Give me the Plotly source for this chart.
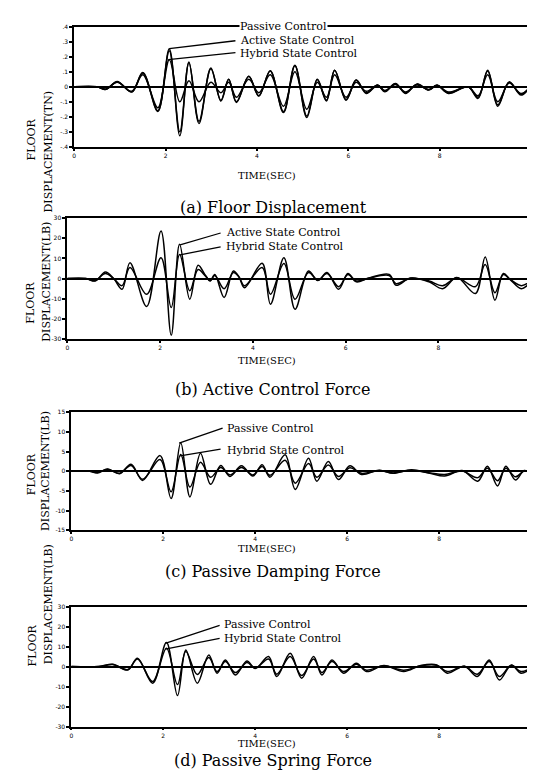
import plotly.graph_objects as go

W, H = 535, 780

# ---------------- data ----------------
T_A = [0, 0.5, 0.69, 0.94, 1.26, 1.50, 1.83, 2.08, 2.31, 2.51,
       2.73, 2.99, 3.21, 3.38, 3.55, 3.82, 4.04, 4.29, 4.58, 4.83,
       5.09, 5.32, 5.52, 5.70, 5.95, 6.17, 6.39, 6.64, 6.80, 7.03,
       7.25, 7.50, 7.76, 7.94, 8.19, 8.62, 8.84, 9.05, 9.27, 9.52,
       9.78, 10.0]
PASSIVE_A = [0, 0, -0.017, 0.035, -0.035, 0.095, -0.16, 0.24, -0.30, 0.16,
             -0.23, 0.12, -0.09, 0.05, -0.10, 0.07, -0.06, 0.105, -0.165, 0.14,
             -0.195, 0.05, -0.09, 0.11, -0.085, 0.045, -0.04, 0.012, -0.03, 0.02,
             -0.04, 0.018, -0.02, 0.01, -0.04, 0.0, -0.07, 0.105, -0.12, 0.03,
             -0.05, 0.01]
ACTIVE_A = [0, 0, -0.017, 0.033, -0.033, 0.093, -0.165, 0.254, -0.326, 0.166,
            -0.245, 0.126, -0.095, 0.05, -0.105, 0.071, -0.062, 0.108, -0.172, 0.144,
            -0.205, 0.049, -0.095, 0.11, -0.09, 0.045, -0.044, 0.011, -0.033, 0.022,
            -0.044, 0.018, -0.022, 0.011, -0.044, 0.0, -0.077, 0.11, -0.13, 0.033,
            -0.055, 0.01]
HYBRID_A = [0, 0, -0.015, 0.03, -0.03, 0.08, -0.14, 0.18, -0.10, 0.04,
            -0.10, 0.03, -0.04, 0.03, -0.07, 0.05, -0.04, 0.08, -0.13, 0.10,
            -0.15, 0.03, -0.07, 0.08, -0.07, 0.03, -0.03, 0.01, -0.025, 0.015,
            -0.035, 0.012, -0.018, 0.01, -0.035, 0.0, -0.06, 0.08, -0.10, 0.025,
            -0.045, 0.005]

T_B = [0, 0.4, 0.6, 0.82, 1.0, 1.18, 1.35, 1.71, 2.02, 2.24,
       2.42, 2.64, 2.82, 2.98, 3.08, 3.18, 3.38, 3.58, 3.70, 3.82,
       4.20, 4.38, 4.67, 4.91, 5.20, 5.40, 5.60, 5.85, 6.05, 6.23,
       6.50, 6.94, 7.09, 7.40, 7.80, 8.09, 8.40, 8.80, 9.01, 9.22,
       9.40, 9.55, 9.79, 10.0]
ACTIVE_B = [0, 0, -1.2, 3.3, 0, -5.3, 7.9, -13.9, 23.6, -28.1,
            17, -10.2, 6.6, 1.5, -1.2, 2.0, -9.4, 3.8, 1.0, -4.5,
            7.6, -12.7, 10.4, -15.2, 3.8, -1.0, 3.0, -5.3, 2.5, -1.6,
            0.3, 2.1, -3.3, 0.3, -1.6, -5.0, 0.5, -7.4, 10.7, -10.7,
            2.5, -0.5, -5.0, -1.6]
HYBRID_B = [0, 0, -1.0, 2.5, 0, -3.5, 5.5, -7.8, 10.4, -14.4,
            12, -6, 4.5, 1.2, -1.0, 1.5, -5, 3.0, 0.8, -3.5,
            5.5, -7.8, 7.5, -10.2, 3.0, -0.8, 2.5, -4, 2, -1.2,
            0.2, 1.5, -2.5, 0.2, -1.2, -3.5, 0.4, -4, 7, -7,
            2, -0.4, -3.5, -1.2]

T_C = [0, 0.4, 0.57, 0.79, 1.05, 1.30, 1.55, 1.93, 2.17, 2.38,
       2.58, 2.81, 3.03, 3.25, 3.45, 3.70, 3.95, 4.15, 4.32, 4.65,
       4.87, 5.16, 5.34, 5.59, 5.81, 6.06, 6.31, 6.70, 7.00, 7.40,
       7.80, 8.12, 8.50, 8.84, 9.05, 9.27, 9.45, 9.66, 9.85, 10.0]
PASSIVE_C = [0, 0, -0.4, 0.6, -0.6, 1.8, -2.3, 4.0, -6.9, 7.3,
             -6.5, 4.6, -3.3, 1.5, -1.3, 1.4, -1.2, 1.7, -1.5, 4.2,
             -4.6, 3.3, -2.5, 2.5, -2.1, 1.4, -0.8, 0.3, -0.5, 0.4,
             -0.5, -1.2, 0.2, -2.5, 1.3, -3.7, 1.3, -2.2, 0.2, -0.5]
HYBRID_C = [0, 0, -0.3, 0.5, -0.5, 1.5, -2.0, 3.0, -5.2, 4.3,
            -4.0, 2.3, -1.5, 1.0, -0.9, 1.0, -0.9, 1.2, -1.0, 2.8,
            -3.0, 2.0, -1.5, 1.6, -1.3, 0.9, -0.5, 0.2, -0.4, 0.3,
            -0.4, -0.8, 0.1, -1.6, 0.8, -2.4, 0.8, -1.4, 0.1, -0.3]

T_D = [0, 0.6, 0.9, 1.23, 1.44, 1.77, 2.07, 2.31, 2.49, 2.74,
       2.99, 3.17, 3.35, 3.57, 3.82, 4.0, 4.29, 4.47, 4.76, 5.01,
       5.27, 5.45, 5.67, 5.92, 6.20, 6.42, 6.80, 7.23, 7.60, 7.95,
       8.18, 8.55, 8.83, 9.09, 9.31, 9.57, 9.78, 10.0]
PASSIVE_D = [0, 0, 1.2, -1.7, 4.2, -8.3, 12.0, -14.5, 8.3, -8.3,
             5.8, -3.3, 3.3, -4.2, 2.8, -1.0, 5.0, -5.0, 6.7, -5.8,
             5.0, -4.2, 3.3, -3.3, 1.7, -2.5, 0.5, -2.5, 0.5, 0.8,
             -3.3, 0.2, -5.0, 3.3, -6.7, 0.8, -3.3, -0.8]
HYBRID_D = [0, 0, 1.0, -1.5, 3.8, -7.5, 9.2, -9.0, 7.5, -4.0,
            4.5, -2.5, 2.5, -3.0, 2.0, -0.8, 3.8, -3.8, 5.0, -4.5,
            3.8, -3.0, 2.5, -2.5, 1.2, -1.8, 0.4, -1.8, 0.4, 0.6,
            -2.5, 0.2, -3.8, 2.5, -5.0, 0.6, -2.5, -0.6]

X_TICKS = [0, 2, 4, 6, 8, 10]
Y_TICKS_A = [0.4, 0.3, 0.2, 0.1, 0, -0.1, -0.2, -0.3, -0.4]
Y_LABELS_A = [".4", ".3", ".2", ".1", "0", "-.1", "-.2", "-.3", "-.4"]
Y_TICKS_B = [30, 20, 10, 0, -10, -20, -30]
Y_TICKS_C = [15, 10, 5, 0, -5, -10, -15]
Y_TICKS_D = [30, 20, 10, 0, -10, -20, -30]

CAPTIONS = ["(a) Floor Displacement", "(b) Active Control Force",
            "(c) Passive Damping Force", "(d) Passive Spring Force"]
Y_TITLES = ["DISPLACEMENT(TN)", "DISPLACEMENT(LB)", "DISPLACEMENT(LB)", "DISPLACEMENT(LB)"]

# ---------------- layout helpers ----------------
def px(x):
    return x / W

def py(y):
    return 1 - y / H

SERIF = "DejaVu Serif"
# panel boxes in pixels: (left, right, top, bottom)
BOXES = [(65, 527, 15, 136), (58, 527, 208, 330), (62, 527, 404, 523), (62, 527, 600, 721)]

panels = [
    (T_A, [ACTIVE_A, PASSIVE_A, HYBRID_A], ["Active State Control", "Passive Control", "Hybrid State Control"],
     Y_TICKS_A, Y_LABELS_A, [-0.4, 0.4]),
    (T_B, [ACTIVE_B, HYBRID_B], ["Active State Control", "Hybrid State Control"],
     Y_TICKS_B, [str(v) for v in Y_TICKS_B], [-30, 30]),
    (T_C, [PASSIVE_C, HYBRID_C], ["Passive Control", "Hybrid State Control"],
     Y_TICKS_C, [str(v) for v in Y_TICKS_C], [-15, 15]),
    (T_D, [PASSIVE_D, HYBRID_D], ["Passive Control", "Hybrid State Control"],
     Y_TICKS_D, [str(v) for v in Y_TICKS_D], [-30, 30]),
]

fig = go.Figure()
layout = dict(width=W, height=H, margin=dict(l=0, r=0, t=0, b=0),
              paper_bgcolor="white", plot_bgcolor="white", showlegend=False)
annotations = []
shapes = []

TICKFONT = dict(family="DejaVu Sans", size=6, color="black")
for i, (t, series, names, yt, yl, yr) in enumerate(panels):
    n = "" if i == 0 else str(i + 1)
    l, r, top, bot = BOXES[i]
    for vals, name in zip(series, names):
        fig.add_trace(go.Scatter(x=t, y=vals, mode="lines", name=name,
                                 line=dict(color="black", width=1.5, shape="spline", smoothing=1.0),
                                 xaxis="x" + n, yaxis="y" + n))
    layout["xaxis" + n] = dict(domain=[px(l), px(r)], range=[0, 10], anchor="y" + n,
                               tickvals=X_TICKS, ticktext=[str(v) for v in X_TICKS],
                               ticks="outside", ticklen=2, tickwidth=1.5, tickcolor="black",
                               showline=True, mirror=True, linecolor="black", linewidth=1.8,
                               showgrid=False, zeroline=False, tickfont=TICKFONT,
                               ticklabeloverflow="allow")
    layout["yaxis" + n] = dict(domain=[py(bot), py(top)], range=yr, anchor="x" + n,
                               tickvals=yt, ticktext=yl,
                               ticks="outside", ticklen=3, tickwidth=1.5, tickcolor="black",
                               showline=True, mirror=True, linecolor="black", linewidth=1.8,
                               showgrid=False, zeroline=True, zerolinecolor="black", zerolinewidth=1.6,
                               tickfont=TICKFONT, ticklabeloverflow="allow")

# y-axis titles
YT_POS = [((13, 105), (30, 77)), ((12, 293), (28, 272)), ((13, 466), (28, 463)), ((14, 662), (30, 660))]
for (fl, dp), title in zip(YT_POS, Y_TITLES):
    annotations.append(dict(x=px(fl[0]), y=py(fl[1]), xref="paper", yref="paper", text="FLOOR",
                            textangle=-90, showarrow=False, font=dict(family=SERIF, size=11, color="black")))
    annotations.append(dict(x=px(dp[0]), y=py(dp[1]), xref="paper", yref="paper", text=title,
                            textangle=-90, showarrow=False, font=dict(family=SERIF, size=11, color="black")))

# TIME(SEC) labels and captions
TIME_POS = [(260, 157), (260, 352), (260, 549), (260, 746)]
CAP_POS = [(266, 186), (266, 381), (266, 576), (266, 767)]
for (tx, ty), (cx, cy), cap in zip(TIME_POS, CAP_POS, CAPTIONS):
    annotations.append(dict(x=px(tx), y=py(ty), xref="paper", yref="paper", text="TIME(SEC)",
                            showarrow=False, font=dict(family=SERIF, size=10, color="black")))
    annotations.append(dict(x=px(cx), y=py(cy), xref="paper", yref="paper", text=cap,
                            showarrow=False, font=dict(family=SERIF, size=16, color="black")))

# legend labels with leader lines (pixel positions)
LABELS = [
    ("Passive Control", 232, 15, None),
    ("Active State Control", 232, 29, (161, 37, 228, 29)),
    ("Hybrid State Control", 232, 42, (160, 48, 228, 41)),
    ("Active State Control", 217, 222, (172, 235, 213, 223)),
    ("Hybrid State Control", 217, 237, (172, 245, 213, 237)),
    ("Passive Control", 218, 420, (171, 435, 215, 420)),
    ("Hybrid State Control", 218, 442, (172, 448, 213, 441)),
    ("Passive Control", 215, 618, (157, 637, 212, 619)),
    ("Hybrid State Control", 215, 632, (157, 643, 212, 632)),
]
for text, lx, ly, lead in LABELS:
    annotations.append(dict(x=px(lx), y=py(ly), xref="paper", yref="paper", text=text,
                            xanchor="left", yanchor="middle", showarrow=False,
                            bgcolor="white" if lead is None else "rgba(0,0,0,0)",
                            borderpad=0,
                            font=dict(family=SERIF, size=11, color="black")))
    if lead:
        x0, y0, x1, y1 = lead
        shapes.append(dict(type="line", xref="paper", yref="paper",
                           x0=px(x0), y0=py(y0), x1=px(x1), y1=py(y1),
                           line=dict(color="black", width=1.3)))

layout["annotations"] = annotations
layout["shapes"] = shapes
fig.update_layout(**layout)
fig.write_html("out.html")
